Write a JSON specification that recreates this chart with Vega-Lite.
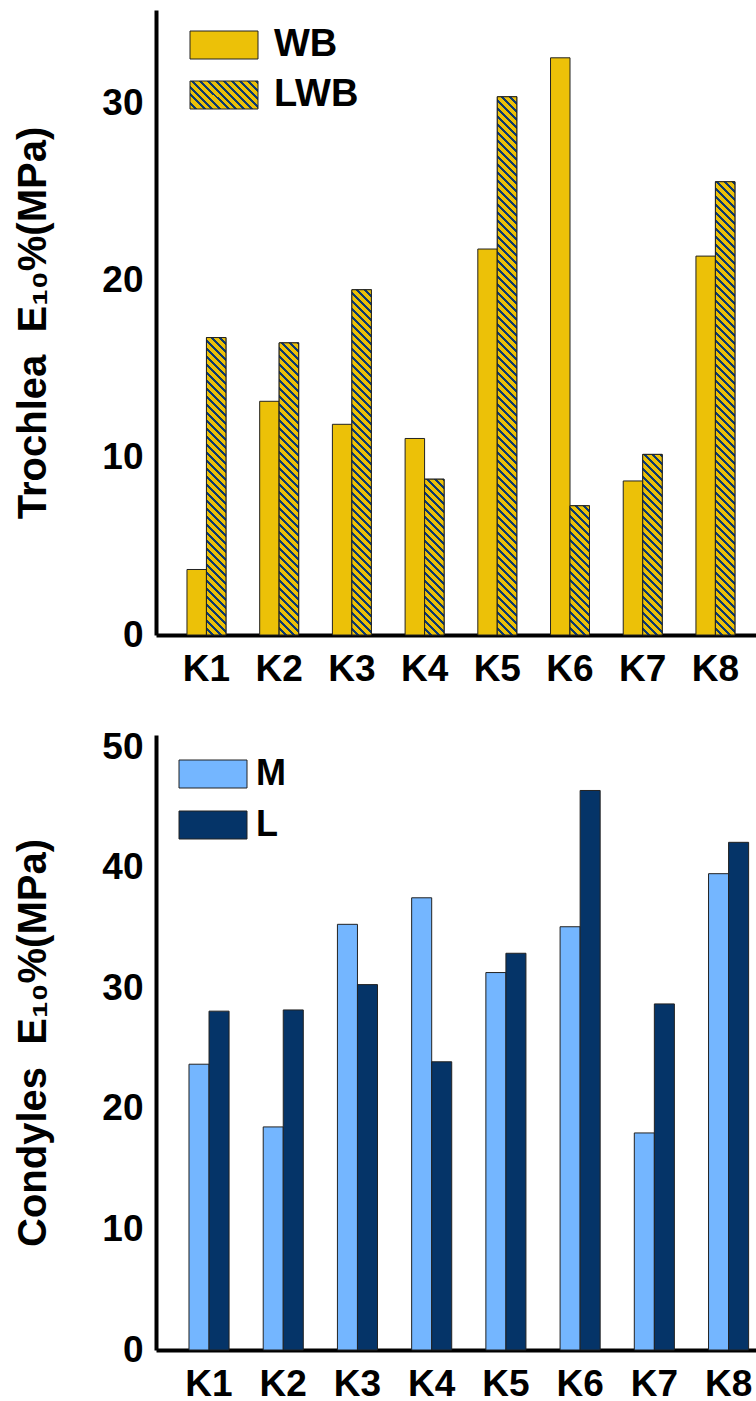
{
  "$schema": "https://vega.github.io/schema/vega-lite/v6.json",
  "background": "white",
  "autosize": {"type": "pad"},
  "padding": {"left": 13, "top": 10, "right": 0, "bottom": 0},
  "bounds": "flush",
  "spacing": 100,
  "resolve": {"scale": {"x": "independent", "xOffset": "independent", "y": "independent", "color": "independent"}, "legend": {"color": "independent"}},
  "params": [
    {"name": "hs", "value": [
      {"offset":0,"color":"#ecc108"},{"offset":0.00833,"color":"#ecc108"},{"offset":0.00833,"color":"#0d3a70"},{"offset":0.01333,"color":"#0d3a70"},
      {"offset":0.01333,"color":"#ecc108"},{"offset":0.02167,"color":"#ecc108"},{"offset":0.02167,"color":"#0d3a70"},{"offset":0.02667,"color":"#0d3a70"},
      {"offset":0.02667,"color":"#ecc108"},{"offset":0.035,"color":"#ecc108"},{"offset":0.035,"color":"#0d3a70"},{"offset":0.04,"color":"#0d3a70"},
      {"offset":0.04,"color":"#ecc108"},{"offset":0.04833,"color":"#ecc108"},{"offset":0.04833,"color":"#0d3a70"},{"offset":0.05333,"color":"#0d3a70"},
      {"offset":0.05333,"color":"#ecc108"},{"offset":0.06167,"color":"#ecc108"},{"offset":0.06167,"color":"#0d3a70"},{"offset":0.06667,"color":"#0d3a70"},
      {"offset":0.06667,"color":"#ecc108"},{"offset":0.075,"color":"#ecc108"},{"offset":0.075,"color":"#0d3a70"},{"offset":0.08,"color":"#0d3a70"},
      {"offset":0.08,"color":"#ecc108"},{"offset":0.08833,"color":"#ecc108"},{"offset":0.08833,"color":"#0d3a70"},{"offset":0.09333,"color":"#0d3a70"},
      {"offset":0.09333,"color":"#ecc108"},{"offset":0.10167,"color":"#ecc108"},{"offset":0.10167,"color":"#0d3a70"},{"offset":0.10667,"color":"#0d3a70"},
      {"offset":0.10667,"color":"#ecc108"},{"offset":0.115,"color":"#ecc108"},{"offset":0.115,"color":"#0d3a70"},{"offset":0.12,"color":"#0d3a70"},
      {"offset":0.12,"color":"#ecc108"},{"offset":0.12833,"color":"#ecc108"},{"offset":0.12833,"color":"#0d3a70"},{"offset":0.13333,"color":"#0d3a70"},
      {"offset":0.13333,"color":"#ecc108"},{"offset":0.14167,"color":"#ecc108"},{"offset":0.14167,"color":"#0d3a70"},{"offset":0.14667,"color":"#0d3a70"},
      {"offset":0.14667,"color":"#ecc108"},{"offset":0.155,"color":"#ecc108"},{"offset":0.155,"color":"#0d3a70"},{"offset":0.16,"color":"#0d3a70"},
      {"offset":0.16,"color":"#ecc108"},{"offset":0.16833,"color":"#ecc108"},{"offset":0.16833,"color":"#0d3a70"},{"offset":0.17333,"color":"#0d3a70"},
      {"offset":0.17333,"color":"#ecc108"},{"offset":0.18167,"color":"#ecc108"},{"offset":0.18167,"color":"#0d3a70"},{"offset":0.18667,"color":"#0d3a70"},
      {"offset":0.18667,"color":"#ecc108"},{"offset":0.195,"color":"#ecc108"},{"offset":0.195,"color":"#0d3a70"},{"offset":0.2,"color":"#0d3a70"},
      {"offset":0.2,"color":"#ecc108"},{"offset":0.20833,"color":"#ecc108"},{"offset":0.20833,"color":"#0d3a70"},{"offset":0.21333,"color":"#0d3a70"},
      {"offset":0.21333,"color":"#ecc108"},{"offset":0.22167,"color":"#ecc108"},{"offset":0.22167,"color":"#0d3a70"},{"offset":0.22667,"color":"#0d3a70"},
      {"offset":0.22667,"color":"#ecc108"},{"offset":0.235,"color":"#ecc108"},{"offset":0.235,"color":"#0d3a70"},{"offset":0.24,"color":"#0d3a70"},
      {"offset":0.24,"color":"#ecc108"},{"offset":0.24833,"color":"#ecc108"},{"offset":0.24833,"color":"#0d3a70"},{"offset":0.25333,"color":"#0d3a70"},
      {"offset":0.25333,"color":"#ecc108"},{"offset":0.26167,"color":"#ecc108"},{"offset":0.26167,"color":"#0d3a70"},{"offset":0.26667,"color":"#0d3a70"},
      {"offset":0.26667,"color":"#ecc108"},{"offset":0.275,"color":"#ecc108"},{"offset":0.275,"color":"#0d3a70"},{"offset":0.28,"color":"#0d3a70"},
      {"offset":0.28,"color":"#ecc108"},{"offset":0.28833,"color":"#ecc108"},{"offset":0.28833,"color":"#0d3a70"},{"offset":0.29333,"color":"#0d3a70"},
      {"offset":0.29333,"color":"#ecc108"},{"offset":0.30167,"color":"#ecc108"},{"offset":0.30167,"color":"#0d3a70"},{"offset":0.30667,"color":"#0d3a70"},
      {"offset":0.30667,"color":"#ecc108"},{"offset":0.315,"color":"#ecc108"},{"offset":0.315,"color":"#0d3a70"},{"offset":0.32,"color":"#0d3a70"},
      {"offset":0.32,"color":"#ecc108"},{"offset":0.32833,"color":"#ecc108"},{"offset":0.32833,"color":"#0d3a70"},{"offset":0.33333,"color":"#0d3a70"},
      {"offset":0.33333,"color":"#ecc108"},{"offset":0.34167,"color":"#ecc108"},{"offset":0.34167,"color":"#0d3a70"},{"offset":0.34667,"color":"#0d3a70"},
      {"offset":0.34667,"color":"#ecc108"},{"offset":0.355,"color":"#ecc108"},{"offset":0.355,"color":"#0d3a70"},{"offset":0.36,"color":"#0d3a70"},
      {"offset":0.36,"color":"#ecc108"},{"offset":0.36833,"color":"#ecc108"},{"offset":0.36833,"color":"#0d3a70"},{"offset":0.37333,"color":"#0d3a70"},
      {"offset":0.37333,"color":"#ecc108"},{"offset":0.38167,"color":"#ecc108"},{"offset":0.38167,"color":"#0d3a70"},{"offset":0.38667,"color":"#0d3a70"},
      {"offset":0.38667,"color":"#ecc108"},{"offset":0.395,"color":"#ecc108"},{"offset":0.395,"color":"#0d3a70"},{"offset":0.4,"color":"#0d3a70"},
      {"offset":0.4,"color":"#ecc108"},{"offset":0.40833,"color":"#ecc108"},{"offset":0.40833,"color":"#0d3a70"},{"offset":0.41333,"color":"#0d3a70"},
      {"offset":0.41333,"color":"#ecc108"},{"offset":0.42167,"color":"#ecc108"},{"offset":0.42167,"color":"#0d3a70"},{"offset":0.42667,"color":"#0d3a70"},
      {"offset":0.42667,"color":"#ecc108"},{"offset":0.435,"color":"#ecc108"},{"offset":0.435,"color":"#0d3a70"},{"offset":0.44,"color":"#0d3a70"},
      {"offset":0.44,"color":"#ecc108"},{"offset":0.44833,"color":"#ecc108"},{"offset":0.44833,"color":"#0d3a70"},{"offset":0.45333,"color":"#0d3a70"},
      {"offset":0.45333,"color":"#ecc108"},{"offset":0.46167,"color":"#ecc108"},{"offset":0.46167,"color":"#0d3a70"},{"offset":0.46667,"color":"#0d3a70"},
      {"offset":0.46667,"color":"#ecc108"},{"offset":0.475,"color":"#ecc108"},{"offset":0.475,"color":"#0d3a70"},{"offset":0.48,"color":"#0d3a70"},
      {"offset":0.48,"color":"#ecc108"},{"offset":0.48833,"color":"#ecc108"},{"offset":0.48833,"color":"#0d3a70"},{"offset":0.49333,"color":"#0d3a70"},
      {"offset":0.49333,"color":"#ecc108"},{"offset":0.50167,"color":"#ecc108"},{"offset":0.50167,"color":"#0d3a70"},{"offset":0.50667,"color":"#0d3a70"},
      {"offset":0.50667,"color":"#ecc108"},{"offset":0.515,"color":"#ecc108"},{"offset":0.515,"color":"#0d3a70"},{"offset":0.52,"color":"#0d3a70"},
      {"offset":0.52,"color":"#ecc108"},{"offset":0.52833,"color":"#ecc108"},{"offset":0.52833,"color":"#0d3a70"},{"offset":0.53333,"color":"#0d3a70"},
      {"offset":0.53333,"color":"#ecc108"},{"offset":0.54167,"color":"#ecc108"},{"offset":0.54167,"color":"#0d3a70"},{"offset":0.54667,"color":"#0d3a70"},
      {"offset":0.54667,"color":"#ecc108"},{"offset":0.555,"color":"#ecc108"},{"offset":0.555,"color":"#0d3a70"},{"offset":0.56,"color":"#0d3a70"},
      {"offset":0.56,"color":"#ecc108"},{"offset":0.56833,"color":"#ecc108"},{"offset":0.56833,"color":"#0d3a70"},{"offset":0.57333,"color":"#0d3a70"},
      {"offset":0.57333,"color":"#ecc108"},{"offset":0.58167,"color":"#ecc108"},{"offset":0.58167,"color":"#0d3a70"},{"offset":0.58667,"color":"#0d3a70"},
      {"offset":0.58667,"color":"#ecc108"},{"offset":0.595,"color":"#ecc108"},{"offset":0.595,"color":"#0d3a70"},{"offset":0.6,"color":"#0d3a70"},
      {"offset":0.6,"color":"#ecc108"},{"offset":0.60833,"color":"#ecc108"},{"offset":0.60833,"color":"#0d3a70"},{"offset":0.61333,"color":"#0d3a70"},
      {"offset":0.61333,"color":"#ecc108"},{"offset":0.62167,"color":"#ecc108"},{"offset":0.62167,"color":"#0d3a70"},{"offset":0.62667,"color":"#0d3a70"},
      {"offset":0.62667,"color":"#ecc108"},{"offset":0.635,"color":"#ecc108"},{"offset":0.635,"color":"#0d3a70"},{"offset":0.64,"color":"#0d3a70"},
      {"offset":0.64,"color":"#ecc108"},{"offset":0.64833,"color":"#ecc108"},{"offset":0.64833,"color":"#0d3a70"},{"offset":0.65333,"color":"#0d3a70"},
      {"offset":0.65333,"color":"#ecc108"},{"offset":0.66167,"color":"#ecc108"},{"offset":0.66167,"color":"#0d3a70"},{"offset":0.66667,"color":"#0d3a70"},
      {"offset":0.66667,"color":"#ecc108"},{"offset":0.675,"color":"#ecc108"},{"offset":0.675,"color":"#0d3a70"},{"offset":0.68,"color":"#0d3a70"},
      {"offset":0.68,"color":"#ecc108"},{"offset":0.68833,"color":"#ecc108"},{"offset":0.68833,"color":"#0d3a70"},{"offset":0.69333,"color":"#0d3a70"},
      {"offset":0.69333,"color":"#ecc108"},{"offset":0.70167,"color":"#ecc108"},{"offset":0.70167,"color":"#0d3a70"},{"offset":0.70667,"color":"#0d3a70"},
      {"offset":0.70667,"color":"#ecc108"},{"offset":0.715,"color":"#ecc108"},{"offset":0.715,"color":"#0d3a70"},{"offset":0.72,"color":"#0d3a70"},
      {"offset":0.72,"color":"#ecc108"},{"offset":0.72833,"color":"#ecc108"},{"offset":0.72833,"color":"#0d3a70"},{"offset":0.73333,"color":"#0d3a70"},
      {"offset":0.73333,"color":"#ecc108"},{"offset":0.74167,"color":"#ecc108"},{"offset":0.74167,"color":"#0d3a70"},{"offset":0.74667,"color":"#0d3a70"},
      {"offset":0.74667,"color":"#ecc108"},{"offset":0.755,"color":"#ecc108"},{"offset":0.755,"color":"#0d3a70"},{"offset":0.76,"color":"#0d3a70"},
      {"offset":0.76,"color":"#ecc108"},{"offset":0.76833,"color":"#ecc108"},{"offset":0.76833,"color":"#0d3a70"},{"offset":0.77333,"color":"#0d3a70"},
      {"offset":0.77333,"color":"#ecc108"},{"offset":0.78167,"color":"#ecc108"},{"offset":0.78167,"color":"#0d3a70"},{"offset":0.78667,"color":"#0d3a70"},
      {"offset":0.78667,"color":"#ecc108"},{"offset":0.795,"color":"#ecc108"},{"offset":0.795,"color":"#0d3a70"},{"offset":0.8,"color":"#0d3a70"},
      {"offset":0.8,"color":"#ecc108"},{"offset":0.80833,"color":"#ecc108"},{"offset":0.80833,"color":"#0d3a70"},{"offset":0.81333,"color":"#0d3a70"},
      {"offset":0.81333,"color":"#ecc108"},{"offset":0.82167,"color":"#ecc108"},{"offset":0.82167,"color":"#0d3a70"},{"offset":0.82667,"color":"#0d3a70"},
      {"offset":0.82667,"color":"#ecc108"},{"offset":0.835,"color":"#ecc108"},{"offset":0.835,"color":"#0d3a70"},{"offset":0.84,"color":"#0d3a70"},
      {"offset":0.84,"color":"#ecc108"},{"offset":0.84833,"color":"#ecc108"},{"offset":0.84833,"color":"#0d3a70"},{"offset":0.85333,"color":"#0d3a70"},
      {"offset":0.85333,"color":"#ecc108"},{"offset":0.86167,"color":"#ecc108"},{"offset":0.86167,"color":"#0d3a70"},{"offset":0.86667,"color":"#0d3a70"},
      {"offset":0.86667,"color":"#ecc108"},{"offset":0.875,"color":"#ecc108"},{"offset":0.875,"color":"#0d3a70"},{"offset":0.88,"color":"#0d3a70"},
      {"offset":0.88,"color":"#ecc108"},{"offset":0.88833,"color":"#ecc108"},{"offset":0.88833,"color":"#0d3a70"},{"offset":0.89333,"color":"#0d3a70"},
      {"offset":0.89333,"color":"#ecc108"},{"offset":0.90167,"color":"#ecc108"},{"offset":0.90167,"color":"#0d3a70"},{"offset":0.90667,"color":"#0d3a70"},
      {"offset":0.90667,"color":"#ecc108"},{"offset":0.915,"color":"#ecc108"},{"offset":0.915,"color":"#0d3a70"},{"offset":0.92,"color":"#0d3a70"},
      {"offset":0.92,"color":"#ecc108"},{"offset":0.92833,"color":"#ecc108"},{"offset":0.92833,"color":"#0d3a70"},{"offset":0.93333,"color":"#0d3a70"},
      {"offset":0.93333,"color":"#ecc108"},{"offset":0.94167,"color":"#ecc108"},{"offset":0.94167,"color":"#0d3a70"},{"offset":0.94667,"color":"#0d3a70"},
      {"offset":0.94667,"color":"#ecc108"},{"offset":0.955,"color":"#ecc108"},{"offset":0.955,"color":"#0d3a70"},{"offset":0.96,"color":"#0d3a70"},
      {"offset":0.96,"color":"#ecc108"},{"offset":0.96833,"color":"#ecc108"},{"offset":0.96833,"color":"#0d3a70"},{"offset":0.97333,"color":"#0d3a70"},
      {"offset":0.97333,"color":"#ecc108"},{"offset":0.98167,"color":"#ecc108"},{"offset":0.98167,"color":"#0d3a70"},{"offset":0.98667,"color":"#0d3a70"},
      {"offset":0.98667,"color":"#ecc108"},{"offset":0.995,"color":"#ecc108"},{"offset":0.995,"color":"#0d3a70"},{"offset":1,"color":"#0d3a70"}
    ]}
  ],
  "config": {
    "view": {"stroke": null},
    "font": "Liberation Sans",
    "axis": {
      "domainColor": "black", "domainWidth": 4, "ticks": false, "grid": false,
      "labelFont": "Liberation Sans", "labelFontSize": 37, "labelFontWeight": "bold", "labelColor": "black",
      "titleFont": "Liberation Sans", "titleFontSize": 40, "titleFontWeight": "bold", "titleColor": "black"
    },
    "axisX": {"labelPadding": 16, "labelAngle": 0},
    "axisY": {"labelPadding": 13, "titlePadding": 48},
    "legend": {
      "padding": 0, "orient": "none", "labelFont": "Liberation Sans", "labelFontWeight": "bold", "labelColor": "black",
      "symbolType": "M-2.4286,-1H2.4286V1H-2.4286Z", "symbolSize": 784,
      "symbolStrokeColor": "#222", "symbolStrokeWidth": 1
    }
  },
  "vconcat": [
    {
      "width": 600, "height": 625,
      "data": {"values": [
        {"k": "K1", "g": "WB", "v": 3.7}, {"k": "K1", "g": "LWB", "v": 16.8},
        {"k": "K2", "g": "WB", "v": 13.2}, {"k": "K2", "g": "LWB", "v": 16.5},
        {"k": "K3", "g": "WB", "v": 11.9}, {"k": "K3", "g": "LWB", "v": 19.5},
        {"k": "K4", "g": "WB", "v": 11.1}, {"k": "K4", "g": "LWB", "v": 8.8},
        {"k": "K5", "g": "WB", "v": 21.8}, {"k": "K5", "g": "LWB", "v": 30.4},
        {"k": "K6", "g": "WB", "v": 32.6}, {"k": "K6", "g": "LWB", "v": 7.3},
        {"k": "K7", "g": "WB", "v": 8.7}, {"k": "K7", "g": "LWB", "v": 10.2},
        {"k": "K8", "g": "WB", "v": 21.4}, {"k": "K8", "g": "LWB", "v": 25.6}
      ]},
      "encoding": {
        "x": {"field": "k", "type": "nominal", "title": null,
              "scale": {"paddingInner": 0.464, "paddingOuter": 0.358, "align": 0.595}},
        "xOffset": {"field": "g", "type": "nominal", "scale": {"domain": ["WB", "LWB"]}},
        "y": {"field": "v", "type": "quantitative",
              "scale": {"domain": [0, 35.3], "nice": false},
              "axis": {"values": [0, 10, 20, 30], "title": "Trochlea\u00a0\u00a0E₁₀%(MPa)"}}
      },
      "layer": [
        {
          "mark": {"type": "bar", "stroke": "#222", "strokeWidth": 1},
          "encoding": {
            "color": {"field": "g", "type": "nominal",
              "scale": {"domain": ["WB", "LWB"],
                        "range": ["#ecc108", {"expr": "{gradient:'linear',x1:0,y1:1,x2:7.544,y2:-2.1065,stops:hs}"}]},
              "legend": {"title": null, "legendX": 49, "legendY": 16, "labelFontSize": 38,
                         "labelOffset": 31, "rowPadding": 12}}
          }
        },
        {
          "transform": [{"filter": "datum.g == 'LWB'"}],
          "mark": {"type": "bar", "stroke": "#222", "strokeWidth": 1,
                   "fill": {"expr": "{gradient:'linear',x1:0,y1:1,x2:600*19.49/(379.86+pow(datum.v*17.705,2)),y2:1-600*datum.v*17.705/(379.86+pow(datum.v*17.705,2)),stops:hs}"}}
        }
      ]
    },
    {
      "width": 600, "height": 615,
      "data": {"values": [
        {"k": "K1", "g": "M", "v": 23.7}, {"k": "K1", "g": "L", "v": 28.1},
        {"k": "K2", "g": "M", "v": 18.5}, {"k": "K2", "g": "L", "v": 28.2},
        {"k": "K3", "g": "M", "v": 35.3}, {"k": "K3", "g": "L", "v": 30.3},
        {"k": "K4", "g": "M", "v": 37.5}, {"k": "K4", "g": "L", "v": 23.9},
        {"k": "K5", "g": "M", "v": 31.3}, {"k": "K5", "g": "L", "v": 32.9},
        {"k": "K6", "g": "M", "v": 35.1}, {"k": "K6", "g": "L", "v": 46.4},
        {"k": "K7", "g": "M", "v": 18.0}, {"k": "K7", "g": "L", "v": 28.7},
        {"k": "K8", "g": "M", "v": 39.5}, {"k": "K8", "g": "L", "v": 42.1}
      ]},
      "mark": {"type": "bar", "stroke": "#222", "strokeWidth": 1},
      "encoding": {
        "x": {"field": "k", "type": "nominal", "title": null,
              "scale": {"paddingInner": 0.46, "paddingOuter": 0.272, "align": 0.817}},
        "xOffset": {"field": "g", "type": "nominal", "scale": {"domain": ["M", "L"]}},
        "y": {"field": "v", "type": "quantitative",
              "scale": {"domain": [0, 51], "nice": false},
              "axis": {"values": [0, 10, 20, 30, 40, 50], "title": "Condyles\u00a0\u00a0E₁₀%(MPa)"}},
        "color": {"field": "g", "type": "nominal",
          "scale": {"domain": ["M", "L"], "range": ["#74b6ff", "#053468"]},
          "legend": {"title": null, "legendX": 39, "legendY": 21, "labelFontSize": 36,
                     "labelOffset": 25, "rowPadding": 15}}
      }
    }
  ]
}
